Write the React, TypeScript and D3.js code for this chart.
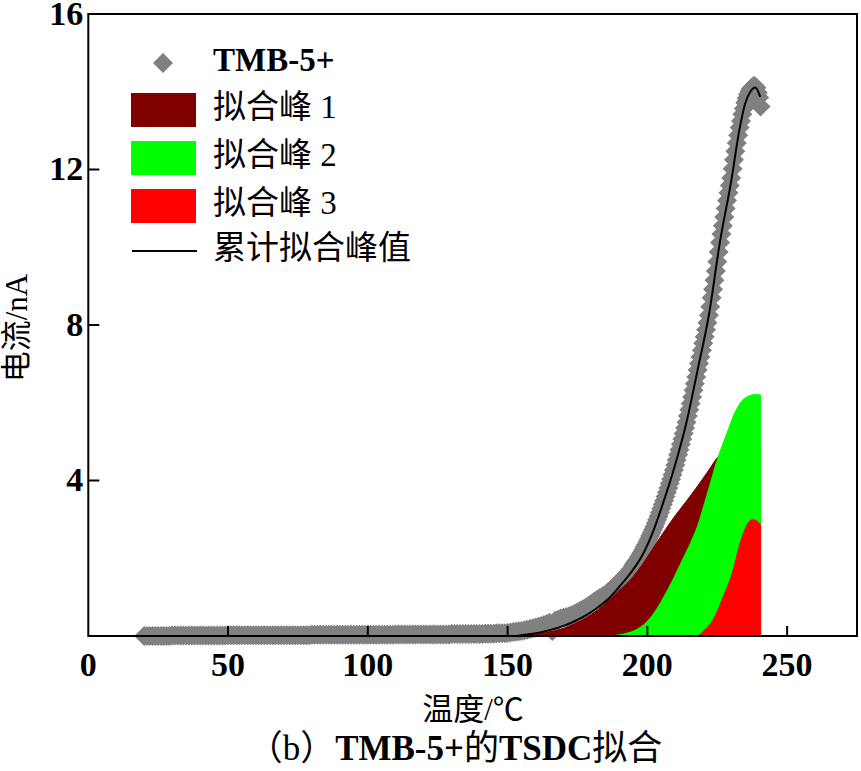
import React from "react";
import * as d3 from "d3";

const xTicks = [0, 50, 100, 150, 200, 250];
const yTicks = [4, 8, 12, 16];
const legendLabels = ["TMB-5+", "拟合峰 1", "拟合峰 2", "拟合峰 3", "累计拟合峰值"];
const xTitle = "温度/℃";
const yTitle = "电流/nA";
const captionParts = ["（b）", "TMB-5+", "的", "TSDC", "拟合"];
const captionBold = [false, true, false, true, false];

// measured TSDC current (TMB-5+): temperature (°C)
const measT = [
  20, 21, 22, 23, 24, 25, 26, 27, 28, 29,
  30, 31, 32, 33, 34, 35, 36, 37, 38, 39,
  40, 41, 42, 43, 44, 45, 46, 47, 48, 49,
  50, 51, 52, 53, 54, 55, 56, 57, 58, 59,
  60, 61, 62, 63, 64, 65, 66, 67, 68, 69,
  70, 71, 72, 73, 74, 75, 76, 77, 78, 79,
  80, 81, 82, 83, 84, 85, 86, 87, 88, 89,
  90, 91, 92, 93, 94, 95, 96, 97, 98, 99,
  100, 101, 102, 103, 104, 105, 106, 107, 108, 109,
  110, 111, 112, 113, 114, 115, 116, 117, 118, 119,
  120, 121, 122, 123, 124, 125, 126, 127, 128, 129,
  130, 131, 132, 133, 134, 135, 136, 137, 138, 139,
  140, 141, 142, 143, 144, 145, 146, 147, 148, 149,
  150, 151, 152, 153, 154, 155, 156, 157, 158, 159,
  160, 161, 162, 163, 164, 165, 166, 167, 168, 169,
  170, 171, 172, 173, 174, 175, 176, 177, 178, 179,
  180, 181, 182, 183, 184, 185, 186, 187, 188, 189,
  190, 191, 192, 193, 194, 195,
  195.5, 196, 196.5, 197, 197.5, 198, 198.5, 199, 199.5, 200,
  200.5, 201, 201.5, 202, 202.5, 203, 203.5, 204, 204.5, 205,
  205.5, 206, 206.5, 207, 207.5, 208, 208.5, 209, 209.5, 210,
  210.5, 211, 211.5, 212, 212.5, 213, 213.5, 214, 214.5, 215,
  215.5, 216, 216.5, 217, 217.5, 218, 218.5, 219, 219.5, 220,
  220.5, 221, 221.5, 222, 222.5, 223, 223.5, 224, 224.5, 225,
  225.5, 226, 226.5, 227, 227.5, 228, 228.5, 229, 229.5, 230,
  230.5, 231, 231.5, 232, 232.5, 233, 233.5, 234, 234.5, 235,
  235.5, 236, 236.5, 237, 237.5, 238, 238.5, 239, 239.5, 240,
  240.5,
];
// measured TSDC current (nA)
const measI = [
  0.0, 0.0, 0.0, 0.0, 0.0, 0.0, 0.0, 0.0, 0.0, 0.0,
  0.01, 0.01, 0.01, 0.01, 0.01, 0.01, 0.01, 0.01, 0.01, 0.01,
  0.01, 0.01, 0.01, 0.01, 0.01, 0.01, 0.01, 0.01, 0.01, 0.01,
  0.02, 0.02, 0.02, 0.02, 0.02, 0.02, 0.02, 0.02, 0.02, 0.02,
  0.02, 0.02, 0.02, 0.02, 0.02, 0.02, 0.02, 0.02, 0.02, 0.02,
  0.02, 0.02, 0.02, 0.02, 0.02, 0.02, 0.02, 0.02, 0.02, 0.02,
  0.03, 0.03, 0.03, 0.03, 0.03, 0.03, 0.03, 0.03, 0.03, 0.03,
  0.03, 0.03, 0.03, 0.03, 0.03, 0.03, 0.03, 0.03, 0.03, 0.03,
  0.03, 0.03, 0.03, 0.03, 0.03, 0.03, 0.03, 0.03, 0.03, 0.03,
  0.04, 0.04, 0.04, 0.04, 0.04, 0.04, 0.04, 0.04, 0.04, 0.04,
  0.04, 0.04, 0.04, 0.04, 0.04, 0.04, 0.04, 0.04, 0.04, 0.04,
  0.05, 0.05, 0.05, 0.05, 0.05, 0.05, 0.05, 0.05, 0.05, 0.05,
  0.05, 0.05, 0.06, 0.06, 0.06, 0.06, 0.07, 0.07, 0.07, 0.07,
  0.08, 0.09, 0.1, 0.11, 0.12, 0.13, 0.15, 0.16, 0.18, 0.2,
  0.22, 0.24, 0.26, 0.28, 0.31, 0.34, 0.13, 0.39, 0.42, 0.45,
  0.47, 0.49, 0.51, 0.54, 0.57, 0.61, 0.65, 0.69, 0.73, 0.78,
  0.83, 0.88, 0.93, 0.98, 1.02, 1.07, 1.13, 1.19, 1.26, 1.33,
  1.4, 1.47, 1.55, 1.63, 1.72, 1.82,
  1.87, 1.92, 1.97, 2.03, 2.09, 2.15, 2.21, 2.28, 2.35, 2.42,
  2.49, 2.57, 2.65, 2.73, 2.81, 2.9, 2.99, 3.08, 3.18, 3.28,
  3.38, 3.48, 3.59, 3.7, 3.81, 3.92, 4.03, 4.15, 4.27, 4.4,
  4.53, 4.66, 4.79, 4.93, 5.07, 5.21, 5.35, 5.5, 5.66, 5.82,
  5.98, 6.15, 6.32, 6.49, 6.66, 6.84, 7.01, 7.18, 7.35, 7.53,
  7.7, 7.88, 8.06, 8.25, 8.47, 8.7, 8.92, 9.15, 9.39, 9.63,
  9.88, 10.12, 10.34, 10.55, 10.78, 11.0, 11.2, 11.4, 11.59, 11.78,
  12.02, 12.25, 12.47, 12.68, 12.88, 13.08, 13.25, 13.42, 13.57, 13.72,
  13.83, 13.93, 14.0, 14.07, 14.11, 14.15, 14.14, 14.1, 13.98, 13.85,
  13.62,
];

// cumulative fitted curve
const fitT = [153.5, 158, 162, 166, 170, 174, 178, 182, 186, 190, 194, 198, 202, 206, 210, 214, 218, 222, 226, 230, 233, 235, 237, 238.6, 240.4];
const fitI = [0.0, 0.05, 0.1, 0.17, 0.26, 0.38, 0.53, 0.72, 0.95, 1.27, 1.62, 2.05, 2.68, 3.5, 4.42, 5.5, 6.85, 8.25, 10.15, 11.7, 13.05, 13.7, 14.02, 14.11, 13.87];

// fitted peak 1
const p1T = [153.5, 158, 162, 166, 170, 174, 178, 182, 186, 190, 194, 198, 202, 206.4, 210, 214, 217.8, 222, 225.3, 228, 232, 236, 240.5];
const p1I = [0.0, 0.03, 0.07, 0.12, 0.2, 0.32, 0.47, 0.66, 0.9, 1.18, 1.45, 1.82, 2.25, 2.73, 3.1, 3.47, 3.84, 4.27, 4.61, 4.75, 4.85, 4.9, 4.85];

// fitted peak 2
const p2T = [153.5, 185.3, 190, 194, 197.4, 200, 203.4, 206, 209.3, 212, 215.3, 217.8, 221.3, 225.3, 228.5, 230.9, 233.2, 236.2, 238.5, 240.5];
const p2I = [0.0, 0.0, 0.03, 0.1, 0.22, 0.38, 0.7, 1.02, 1.47, 1.88, 2.37, 2.8, 3.62, 4.6, 5.22, 5.68, 5.99, 6.17, 6.21, 6.2];

// fitted peak 3
const p3T = [153.5, 217.8, 220, 223.5, 227.1, 230.4, 233.2, 235.7, 237.5, 238.6, 240.5];
const p3I = [0.0, 0.0, 0.12, 0.41, 1.0, 1.62, 2.39, 2.86, 2.99, 2.98, 2.86];

const W = 861;
const H = 771;
const FONT = "'Liberation Serif', 'Times New Roman', 'Noto Sans CJK SC', serif";

export default function App() {
  const x = d3.scaleLinear().domain([0, 275]).range([88.3, 857]);
  const y = d3.scaleLinear().domain([0, 16]).range([636, 14]);

  const toPts = (ts: number[], vs: number[]) => ts.map((t, i) => [t, vs[i]] as [number, number]);

  const area = d3
    .area<[number, number]>()
    .x((d) => x(d[0]))
    .y0(y(0))
    .y1((d) => y(d[1]))
    .curve(d3.curveMonotoneX);

  const line = d3
    .line<[number, number]>()
    .x((d) => x(d[0]))
    .y((d) => y(d[1]))
    .curve(d3.curveMonotoneX);

  const diamond = "M0,-10L10,0L0,10L-10,0Z";
  const peaks = [
    { pts: toPts(p1T, p1I), color: "#800000" },
    { pts: toPts(p2T, p2I), color: "#00FF00" },
    { pts: toPts(p3T, p3I), color: "#FF0000" },
  ];

  const x0 = x(0);
  const x1 = x(275);
  const yb = y(0);
  const yt = y(16);

  return (
    <svg
      width={W}
      height={H}
      style={{ position: "absolute", left: 0, top: 0, background: "#fff" }}
      fontFamily={FONT}
    >
      <rect width={W} height={H} fill="#fff" />
      {/* measured markers */}
      <g fill="#808080">
        {measT.map((t, i) => (
          <path key={i} d={diamond} transform={`translate(${x(t)},${y(measI[i])})`} />
        ))}
      </g>
      {/* fitted peaks */}
      {peaks.map((p, i) => (
        <path key={i} d={area(p.pts) || ""} fill={p.color} stroke={p.color} strokeWidth={1} />
      ))}
      {/* cumulative fit */}
      <path d={line(toPts(fitT, fitI)) || ""} fill="none" stroke="#000" strokeWidth={2} />

      {/* frame */}
      <rect x={x0} y={yt} width={x1 - x0} height={yb - yt} fill="none" stroke="#000" strokeWidth={2} />
      {/* ticks */}
      {xTicks.filter((t) => t > 0).map((t) => (
        <line key={t} x1={x(t)} x2={x(t)} y1={yb} y2={yb - 10} stroke="#000" strokeWidth={2} />
      ))}
      {yTicks.filter((t) => t < 16).map((t) => (
        <line key={t} x1={x0} x2={x0 + 11} y1={y(t)} y2={y(t)} stroke="#000" strokeWidth={2} />
      ))}
      {/* tick labels */}
      {xTicks.map((t) => (
        <text key={t} x={x(t)} y={yb + 32} fontSize={34} fontWeight="bold" textAnchor="middle" dominantBaseline="middle">
          {t}
        </text>
      ))}
      {yTicks.map((t) => (
        <text key={t} x={x0 - 5} y={y(t) + 3} fontSize={34} fontWeight="bold" textAnchor="end" dominantBaseline="middle">
          {t}
        </text>
      ))}
      {/* axis titles */}
      <text x={473} y={713} fontSize={31} textAnchor="middle" dominantBaseline="middle">
        {xTitle}
      </text>
      <text
        transform={`translate(20,328) rotate(-90)`}
        fontSize={31}
        textAnchor="middle"
        dominantBaseline="middle"
      >
        {yTitle}
      </text>
      <text x={455} y={752} fontSize={35} textAnchor="middle" dominantBaseline="middle">
        {captionParts.map((s, i) => (
          <tspan key={i} fontWeight={captionBold[i] ? "bold" : "normal"}>
            {s}
          </tspan>
        ))}
      </text>

      {/* legend */}
      <path d={diamond} fill="#808080" transform="translate(163,63)" />
      <rect x={131} y={93} width={65} height={34} fill="#800000" />
      <rect x={131} y={141} width={65} height={34} fill="#00FF00" />
      <rect x={131} y={189} width={65} height={34} fill="#FF0000" />
      <line x1={132} x2={197} y1={251} y2={251} stroke="#000" strokeWidth={2} />
      {legendLabels.map((s, i) => (
        <text
          key={s}
          x={213}
          y={[63, 110, 158, 206, 251][i]}
          fontSize={33}
          fontWeight={i === 0 ? "bold" : "normal"}
          dominantBaseline="middle"
        >
          {s}
        </text>
      ))}
    </svg>
  );
}
